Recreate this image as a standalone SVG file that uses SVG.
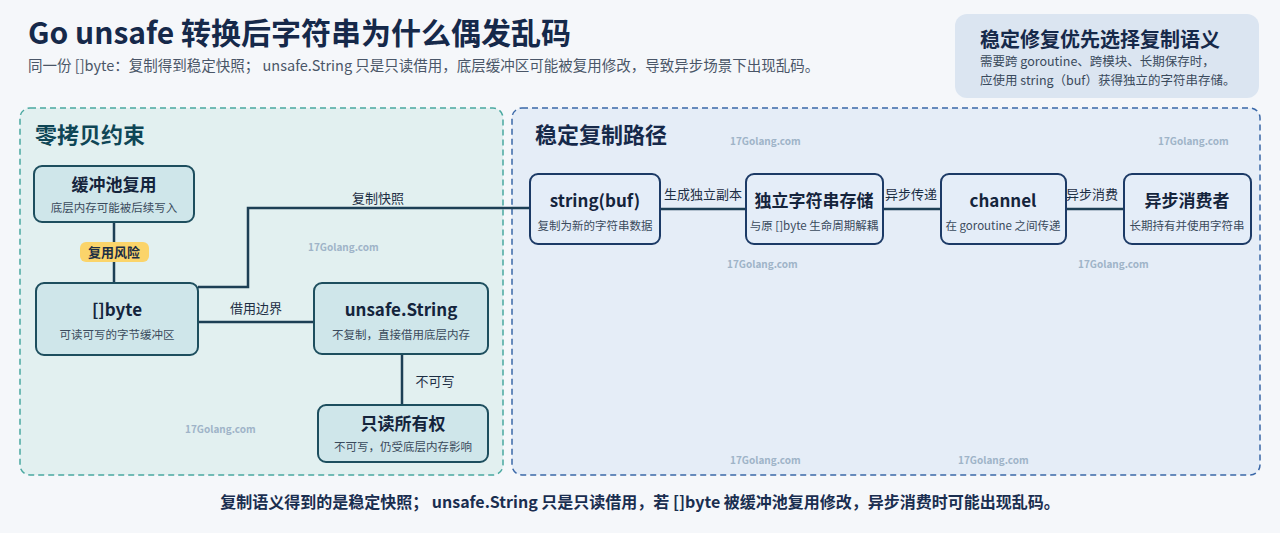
<svg xmlns="http://www.w3.org/2000/svg" width="1280" height="533" viewBox="0 0 1280 533">
<style>
text{font-family:"Noto Sans CJK SC","Noto Sans",sans-serif}
.nl{fill:#cfe6ea;stroke:#1d4e5e;stroke-width:2}
.nr{fill:#e4edf8;stroke:#1c3a66;stroke-width:2}
.t{font-size:17px;font-weight:700;fill:#14243c;text-anchor:middle}
.s{font-size:11.5px;fill:#3a4a5c;text-anchor:middle}
.c{fill:none;stroke:#1d3f55;stroke-width:2.5}
.cl{font-size:13px;fill:#1d2e44;text-anchor:middle}
.wm{font-size:10px;fill:#9fb4c8;font-family:"DejaVu Sans",sans-serif;font-weight:700}
</style>
<rect width="1280" height="533" fill="#f5f7fa"/>
<text x="28" y="44" font-size="30" font-weight="700" fill="#16294a">Go unsafe 转换后字符串为什么偶发乱码</text>
<text x="28" y="71" font-size="14.5" fill="#4a5668">同一份 []byte：复制得到稳定快照； unsafe.String 只是只读借用，底层缓冲区可能被复用修改，导致异步场景下出现乱码。</text>
<g id="tip"><rect x="955" y="14" width="304" height="84" rx="12" fill="#dbe5f1"/>
<text x="980" y="47" font-size="20" font-weight="700" fill="#16294a">稳定修复优先选择复制语义</text>
<text x="980" y="66" font-size="12.5" fill="#3a4a5c">需要跨 goroutine、跨模块、长期保存时，</text>
<text x="980" y="85" font-size="12.5" fill="#3a4a5c">应使用 string（buf）获得独立的字符串存储。</text></g>
<rect x="20" y="108" width="483" height="367" rx="10" fill="#e2f0f0" stroke="#4aa8a0" stroke-width="1.5" stroke-dasharray="6 4"/>
<text x="35" y="143" font-size="22" font-weight="700" fill="#0f4656">零拷贝约束</text>
<rect x="512" y="108" width="748" height="367" rx="10" fill="#e5edf7" stroke="#3a68a8" stroke-width="1.5" stroke-dasharray="6 4"/>
<text x="535" y="143" font-size="22" font-weight="700" fill="#16294a">稳定复制路径</text>
<g class="wm"><text x="308" y="251">17Golang.com</text><text x="185" y="433">17Golang.com</text><text x="730" y="145">17Golang.com</text><text x="1158" y="145">17Golang.com</text><text x="727" y="268">17Golang.com</text><text x="1078" y="268">17Golang.com</text><text x="730" y="464">17Golang.com</text><text x="958" y="464">17Golang.com</text></g>
<g id="connectors">
<path class="c" d="M114 222V283"/>
<path class="c" d="M198 287H248V208H530"/>
<path class="c" d="M198 322H314"/>
<path class="c" d="M402 354V405"/>
<path class="c" d="M660 209H746M883 209H941M1066 209H1124"/>
<rect x="80" y="242" width="69" height="20" rx="6" fill="#fbd46a"/>
<text class="cl" x="114" y="257" font-weight="700">复用风险</text>
<text class="cl" x="378" y="203">复制快照</text>
<text class="cl" x="256" y="313">借用边界</text>
<text class="cl" x="435" y="386">不可写</text>
<text class="cl" x="703" y="199" font-size="12">生成独立副本</text>
<text class="cl" x="911" y="199" font-size="12">异步传递</text>
<text class="cl" x="1092" y="199" font-size="12">异步消费</text>
</g>
<g id="n1"><rect class="nl" x="34" y="166" width="160" height="56" rx="8"/><text class="t" x="114" y="191">缓冲池复用</text><text class="s" x="114" y="212">底层内存可能被后续写入</text></g>
<g id="n2"><rect class="nl" x="36" y="283" width="162" height="72" rx="8"/><text class="t" x="117" y="316" font-size="19">[]byte</text><text class="s" x="117" y="339">可读可写的字节缓冲区</text></g>
<g id="n3"><rect class="nl" x="314" y="283" width="174" height="71" rx="8"/><text class="t" x="401" y="316" font-size="19">unsafe.String</text><text class="s" x="401" y="339">不复制，直接借用底层内存</text></g>
<g id="n4"><rect class="nl" x="318" y="405" width="170" height="57" rx="8"/><text class="t" x="403" y="430">只读所有权</text><text class="s" x="403" y="451">不可写，仍受底层内存影响</text></g>
<g id="n5"><rect class="nr" x="530" y="174" width="130" height="70" rx="8"/><text class="t" x="595" y="207">string(buf)</text><text class="s" x="595" y="230">复制为新的字符串数据</text></g>
<g id="n6"><rect class="nr" x="746" y="174" width="137" height="70" rx="8"/><text class="t" x="814" y="207">独立字符串存储</text><text class="s" x="814" y="230">与原 []byte 生命周期解耦</text></g>
<g id="n7"><rect class="nr" x="941" y="174" width="125" height="70" rx="8"/><text class="t" x="1003" y="207">channel</text><text class="s" x="1003" y="230">在 goroutine 之间传递</text></g>
<g id="n8"><rect class="nr" x="1124" y="174" width="127" height="70" rx="8"/><text class="t" x="1187" y="207">异步消费者</text><text class="s" x="1187" y="230">长期持有并使用字符串</text></g>
<text x="640" y="508" font-size="16" font-weight="700" fill="#1a2e50" text-anchor="middle">复制语义得到的是稳定快照； unsafe.String 只是只读借用，若 []byte 被缓冲池复用修改，异步消费时可能出现乱码。</text>
</svg>
